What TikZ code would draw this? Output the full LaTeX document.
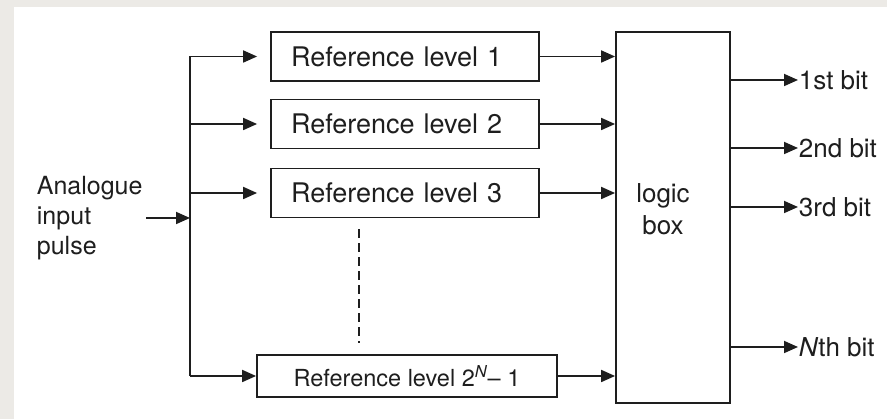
\documentclass[tikz,border=0pt]{standalone}
\usepackage{fontspec}
\setmainfont{TeX Gyre Heros}
\usetikzlibrary{positioning, arrows.meta, calc}
\definecolor{ink}{HTML}{1E1E1E}
\definecolor{margin}{HTML}{ECEAE6}

\begin{document}
\begin{tikzpicture}[x=1pt, y=1pt, on grid, color=ink, line width=1.8pt,
        >={Triangle[length=14pt, width=12pt]},
        font=\fontsize{25}{30}\selectfont,
        refbox/.style={draw, rectangle, minimum height=49pt, text width=228pt, inner xsep=20pt,
          inner ysep=0pt, align=left, font=\fontsize{27}{32}\selectfont},
        bitlabel/.style={anchor=west, inner sep=0pt, font=\fontsize{26}{30}\selectfont}]
        % page and margin
        \fill[margin] (0,0) rectangle (887,-419);
        \fill[white] (14,-7) rectangle (887,-419);
        \useasboundingbox (0,0) rectangle (887,-419);

        \node[refbox]   (ref1) at (405,-56.5)     {Reference level 1};
        \node[refbox]   (ref2) [below=67.5pt of ref1] {Reference level 2};
        \node[refbox]   (ref3) [below=69pt of ref2]   {Reference level 3};
        \node[draw, minimum width=300pt, minimum height=42pt, inner sep=0pt, font=\fontsize{23.5}{28}\selectfont]
                        (refN) at (407,-376)      {Reference level 2\textsuperscript{\textit{N}}– 1};
        \node[draw, minimum width=114pt, minimum height=371pt] (logic) at (673,-217.5) {};
        \node[align=center, font=\fontsize{26}{32}\selectfont] (logictext) at (663,-209) {logic\\box};
        \node[align=left, anchor=west, inner sep=0pt] (input) at (36,-218) {Analogue\\input\\pulse};
        \coordinate (bus) at (190,-218);

        \node[bitlabel] (bit1) at (798,-80)  {1st bit};
        \node[bitlabel] (bit2) at (798,-148) {2nd bit};
        \node[bitlabel] (bit3) at (798,-207) {3rd bit};
        \node[bitlabel] (bitN) at (798,-347) {\textit{N}th bit};

        % input bus
        \draw[->] ([xshift=3pt]input.east) -- (bus);
        \draw (bus |- ref1) -- (bus |- refN);
        \foreach \r in {ref1, ref2, ref3}
          \draw[->, shorten >=13pt] (bus |- \r) -- (\r);
        \draw[->] (bus |- refN) -- (refN);
        \draw[dash pattern=on 9pt off 5pt] ([xshift=-46pt, yshift=-11pt]ref3.south) -- ([xshift=-48pt, yshift=11pt]refN.north);

        % into and out of the logic box
        \foreach \r in {ref1, ref2, ref3, refN}
          \draw[->] (\r) -- (\r -| logic.west);
        \foreach \b in {bit1, bit2, bit3, bitN}
          \draw[->] (logic.east |- \b) -- (\b);
      \end{tikzpicture}
\end{document}
